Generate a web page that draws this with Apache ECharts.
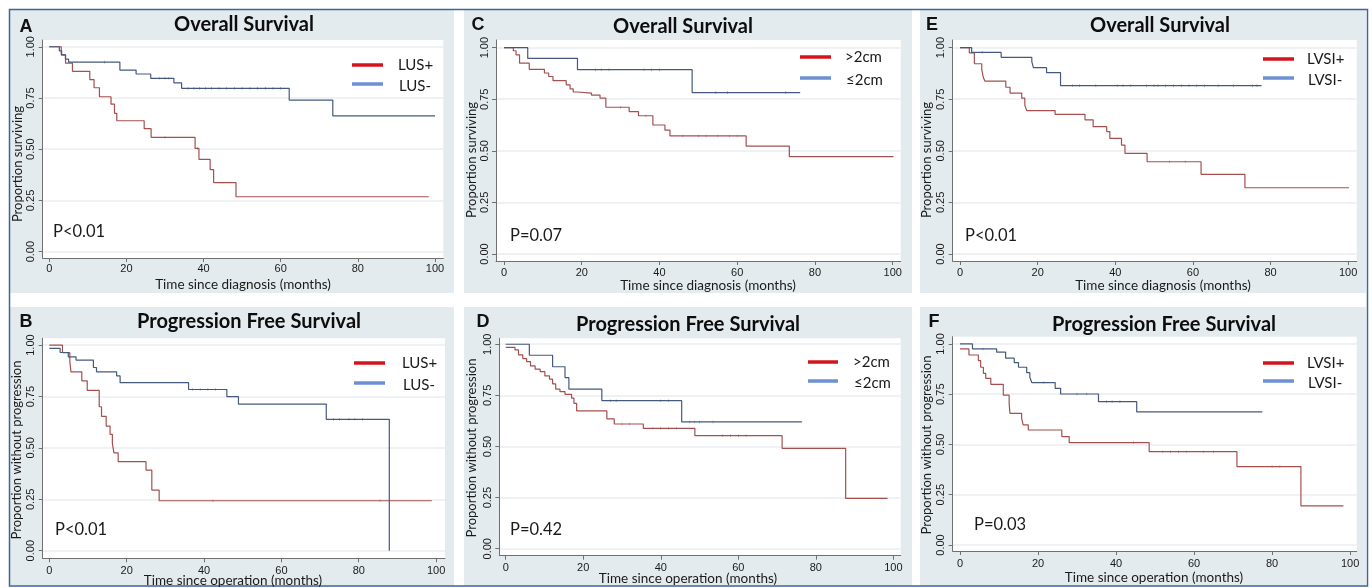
<!DOCTYPE html>
<html><head><meta charset="utf-8">
<script src="https://cdn.jsdelivr.net/npm/echarts@6/dist/echarts.min.js"></script>
<style>html,body{margin:0;padding:0;background:#fff}#c{width:1372px;height:588px}</style>
</head><body><div id="c"></div><script>
// ---------- tick labels ----------
const xTicks = [0, 20, 40, 60, 80, 100];
const yTicks = [0, 0.25, 0.5, 0.75, 1];
const yTickLabels = ['0.00', '0.25', '0.50', '0.75', '1.00'];

// ---------- Kaplan-Meier steps [month, proportion] ----------
// A: Overall survival by LUS
const osLusPos = [[0,1],[3.1,0.96],[4.2,0.92],[6,0.88],[10.5,0.84],[11.6,0.80],[13,0.756],[16,0.72],[16.9,0.675],[17.5,0.639],[24.6,0.60],[26.4,0.558],[37.8,0.504],[38.8,0.45],[41.7,0.40],[42.6,0.337],[48.4,0.268],[98.4,0.268]];
const osLusNeg = [[0,1],[2.6,0.98],[3.2,0.96],[4.2,0.94],[5,0.925],[18.3,0.886],[22.5,0.867],[26.3,0.846],[32.3,0.824],[34.3,0.797],[62.2,0.74],[73.5,0.663],[100,0.663]];
// C: Overall survival by size
const osBig = [[0,1],[2.4,0.985],[3.1,0.965],[4,0.925],[6.5,0.895],[10.4,0.877],[11.5,0.86],[12.6,0.84],[16,0.82],[17,0.80],[17.8,0.785],[19,0.78],[22.5,0.77],[24.7,0.755],[26.2,0.711],[32.2,0.69],[34.6,0.67],[38.3,0.625],[41.4,0.60],[42.7,0.572],[62.3,0.523],[73.4,0.472],[100.2,0.472]];
const osSmall = [[0,1],[6.1,0.948],[18.9,0.893],[48.4,0.782],[76.2,0.782]];
// E: Overall survival by LVSI
const osLvsiPos = [[0,1],[2.4,0.975],[3.7,0.922],[5.6,0.895],[6,0.856],[6.4,0.838],[11.8,0.808],[12.9,0.78],[15.9,0.755],[16.7,0.72],[17.2,0.695],[24.5,0.677],[32.2,0.65],[34.3,0.617],[37.8,0.593],[38.6,0.56],[41.6,0.528],[42.5,0.488],[48.2,0.447],[62.1,0.386],[73.4,0.321],[100.2,0.321]];
const osLvsiNeg = [[0,1],[3,0.977],[10.6,0.953],[18.5,0.932],[18.9,0.903],[22.3,0.879],[25.9,0.816],[77.7,0.816]];
// B: PFS by LUS
const pfsLusPos = [[0,1],[3.4,0.963],[5.3,0.92],[5.6,0.87],[8.4,0.826],[9.8,0.78],[12.9,0.70],[13.5,0.653],[14.7,0.606],[15.7,0.566],[16.3,0.522],[16.7,0.476],[17.8,0.433],[25,0.392],[26.5,0.295],[28.4,0.243],[98.9,0.243]];
const pfsLusNeg = [[0,0.984],[2.8,0.964],[4.9,0.943],[6.9,0.927],[11.4,0.891],[12.2,0.87],[17.4,0.85],[18.3,0.817],[36,0.784],[45.9,0.749],[48.9,0.713],[71.6,0.639],[87.9,0]];
// D: PFS by size
const pfsBig = [[0,0.985],[2.4,0.972],[3.3,0.948],[4.4,0.93],[5.4,0.915],[6.4,0.894],[7.6,0.878],[8.9,0.866],[10.1,0.845],[11.3,0.829],[12.1,0.806],[12.9,0.78],[14,0.768],[15.3,0.755],[17,0.736],[17.6,0.711],[18.3,0.674],[26.1,0.635],[28,0.61],[35.5,0.589],[48.8,0.553],[71.3,0.491],[87.7,0.246],[98.5,0.246]];
const pfsSmall = [[0,1],[6.1,0.946],[12.1,0.89],[15.3,0.837],[16.3,0.78],[24.8,0.724],[45.4,0.62],[76.4,0.62]];
// F: PFS by LVSI
const pfsLvsiPos = [[0,0.975],[2.3,0.945],[4.7,0.917],[5.3,0.884],[6,0.854],[6.6,0.829],[7.9,0.799],[11.1,0.745],[12.6,0.705],[12.8,0.655],[15.8,0.63],[16.2,0.597],[17.5,0.572],[26.1,0.539],[28,0.509],[48.5,0.464],[71,0.39],[87.4,0.194],[98.3,0.194]];
const pfsLvsiNeg = [[0,1],[3.2,0.975],[9.4,0.959],[11.7,0.929],[13.9,0.907],[15,0.884],[17.1,0.857],[17.9,0.834],[18.4,0.808],[24.4,0.779],[25.8,0.751],[35.5,0.713],[45.3,0.662],[77.5,0.662]];

// ---------- censoring times (months) ----------
const cOsLusPos = [30, 38.4];
const cOsLusNeg = [14.3, 28.5, 30, 31, 36, 37.5, 39, 40.5, 42, 44, 46, 48, 50, 52, 54, 56, 58, 60];
const cOsBig = [30, 36.5, 46, 50, 52, 55, 58, 60];
const cOsSmall = [23.5, 25, 27, 36, 38, 40, 54.5, 57.5, 72.5];
const cOsLvsiPos = [54, 58];
const cOsLvsiNeg = [5.7, 29, 30.8, 35, 40.5, 42, 44, 48, 50, 51, 53, 55, 57, 59, 61, 63, 66.5, 70.5, 75.3, 76.5];
const cPfsLusPos = [42.3, 85.5];
const cPfsLusNeg = [37, 39, 41, 43, 73.5, 75, 77.5, 79, 81];
const cPfsBig = [30, 32, 38, 40, 42, 44, 56, 58, 60, 62];
const cPfsSmall = [27, 28.5, 40, 42, 47.5, 48.7, 50, 53.5];
const cPfsLvsiPos = [44.5, 52, 54, 56, 58, 62.5, 65, 80, 82];
const cPfsLvsiNeg = [5.9, 21.5, 30, 32.5, 37.5, 39, 41];

// ---------- texts ----------
const titles = ['Overall Survival', 'Overall Survival', 'Overall Survival', 'Progression Free Survival', 'Progression Free Survival', 'Progression Free Survival'];
const letters = ['A', 'C', 'E', 'B', 'D', 'F'];
const legendNames = [['LUS+', 'LUS-'], ['>2cm', '≤2cm'], ['LVSI+', 'LVSI-'], ['LUS+', 'LUS-'], ['>2cm', '≤2cm'], ['LVSI+', 'LVSI-']];
const pValues = ['P<0.01', 'P=0.07', 'P<0.01', 'P<0.01', 'P=0.42', 'P=0.03'];
const xNames = ['Time since diagnosis (months)', 'Time since diagnosis (months)', 'Time since diagnosis (months)', 'Time since operation (months)', 'Time since operation (months)', 'Time since operation (months)'];
const yNames = ['Proportion surviving', 'Proportion surviving', 'Proportion surviving', 'Proportion without progression', 'Proportion without progression', 'Proportion without progression'];

const curves = [[osLusPos, osLusNeg], [osBig, osSmall], [osLvsiPos, osLvsiNeg], [pfsLusPos, pfsLusNeg], [pfsBig, pfsSmall], [pfsLvsiPos, pfsLvsiNeg]];
const censors = [[cOsLusPos, cOsLusNeg], [cOsBig, cOsSmall], [cOsLvsiPos, cOsLvsiNeg], [cPfsLusPos, cPfsLusNeg], [cPfsBig, cPfsSmall], [cPfsLvsiPos, cPfsLvsiNeg]];

// ---------- layout (pixels) ----------
const layout = [
  {bg:[10,10,444,283], grid:[42.7,40,400.6,218], x:[-1.71,102.15], y:[-0.031,1.033], xm:5, title:[244,25], letter:[26,27], leg:[352,383,65,84,398], p:[53,232], xn:[243,285], yn:[18,164]},
  {bg:[464,10,448,283], grid:[496,40,404.7,221], x:[-2.06,102.06], y:[-0.034,1.037], xm:6, title:[683,27], letter:[478,25], leg:[800,831,57,78,845], p:[510,236], xn:[708,286], yn:[472,160]},
  {bg:[920,10,446,283], grid:[952.7,40,404,221], x:[-1.88,102.2], y:[-0.034,1.037], xm:6, title:[1160,26], letter:[932,25], leg:[1263,1294,59,78,1307], p:[965,236], xn:[1163,286], yn:[927,160]},
  {bg:[10,307,444,279], grid:[42.7,338.3,402.3,220], x:[-1.71,102.3], y:[-0.037,1.033], xm:7, title:[249,322], letter:[26,322], leg:[354,385,363,383,402], p:[55,530], xn:[233,581], yn:[17,450]},
  {bg:[464,307,448,279], grid:[499.3,338.3,401.4,217.4], x:[-1.65,101.9], y:[-0.034,1.029], xm:7, title:[688,325], letter:[483,322], leg:[808,838,362,381,853], p:[510,530], xn:[688,579], yn:[472,448]},
  {bg:[920,307,446,279], grid:[952.7,336.7,404,214.3], x:[-1.87,101.7], y:[-0.03,1.036], xm:7.5, title:[1164,325], letter:[934,322], leg:[1263,1294,363,381,1307], p:[974,525], xn:[1154,578], yn:[927,445]}
];

const RED = '#a4504f', BLUE = '#45597f', LRED = '#d4141c', LBLUE = '#6d90d3';
const AX = '#707070', TXT = '#1a1a1a';
const SANS = 'Lato, "Open Sans", sans-serif';
const TICKF = '"Liberation Sans", Arial, sans-serif';

function survAt(steps, t) {
  let v = steps[0][1];
  for (const [tt, s] of steps) { if (tt <= t) v = s; else break; }
  return v;
}

const grids = [], xAxes = [], yAxes = [], series = [], graphics = [];

layout.forEach(L => {
  graphics.push({type:'rect', silent:true, z:-10, shape:{x:L.bg[0], y:L.bg[1], width:L.bg[2], height:L.bg[3]}, style:{fill:'#e4ebef'}});
});
graphics.push({type:'rect', silent:true, z:-5, shape:{x:9.5, y:9.5, width:1358, height:576.5}, style:{fill:'none', stroke:'#40639b', lineWidth:1.5}});

layout.forEach((L, i) => {
  grids.push({left:L.grid[0], top:L.grid[1], width:L.grid[2], height:L.grid[3], backgroundColor:'#ffffff', show:true, borderWidth:0, containLabel:false});
  xAxes.push({
    type:'value', gridIndex:i, min:L.x[0], max:L.x[1],
    axisLine:{show:true, onZero:false, lineStyle:{color:AX, width:1}},
    axisTick:{show:true, customValues:xTicks, length:4, lineStyle:{color:AX}},
    axisLabel:{customValues:xTicks, margin:L.xm, fontSize:11, color:TXT, fontFamily:TICKF},
    splitLine:{show:false}
  });
  yAxes.push({
    type:'value', gridIndex:i, min:L.y[0], max:L.y[1],
    axisLine:{show:true, onZero:false, lineStyle:{color:AX, width:1}},
    axisTick:{show:true, customValues:yTicks, length:4, lineStyle:{color:AX}},
    axisLabel:{customValues:yTicks, rotate:90, margin:6, fontSize:11, color:TXT, fontFamily:TICKF,
      formatter: v => yTickLabels[yTicks.indexOf(Math.round(v*100)/100)] || ''},
    splitLine:{show:true, lineStyle:{color:'#e9eef1', width:1.5}}
  });
  const cols = [RED, BLUE];
  curves[i].forEach((d, k) => {
    series.push({
      type:'line', name:legendNames[i][k], xAxisIndex:i, yAxisIndex:i, data:d, step:'end',
      showSymbol:false, symbol:'none', lineStyle:{color:cols[k], width:1.2}, itemStyle:{color:cols[k]},
      animation:false, silent:true, z:3
    });
    series.push({
      type:'scatter', xAxisIndex:i, yAxisIndex:i, data:censors[i][k].map(t => [t, survAt(d, t)]),
      symbol:'rect', symbolSize:[0.6, 2.6], itemStyle:{color:cols[k], opacity:0.75}, animation:false, silent:true, z:4
    });
  });

  graphics.push({type:'text', silent:true, x:L.title[0], y:L.title[1], style:{text:titles[i], font:'bold 20px ' + SANS, fill:'#0d0d0d', align:'center', verticalAlign:'middle'}});
  graphics.push({type:'text', silent:true, x:L.letter[0], y:L.letter[1], style:{text:letters[i], font:'bold 18px ' + TICKF, fill:'#111', align:'center', verticalAlign:'middle'}});
  graphics.push({type:'line', silent:true, shape:{x1:L.leg[0], y1:L.leg[2], x2:L.leg[1], y2:L.leg[2]}, style:{stroke:LRED, lineWidth:3.5}});
  graphics.push({type:'line', silent:true, shape:{x1:L.leg[0], y1:L.leg[3], x2:L.leg[1], y2:L.leg[3]}, style:{stroke:LBLUE, lineWidth:3.5}});
  graphics.push({type:'text', silent:true, x:L.leg[4], y:L.leg[2], style:{text:legendNames[i][0], font:'15px ' + SANS, fill:TXT, align:'left', verticalAlign:'middle'}});
  graphics.push({type:'text', silent:true, x:L.leg[4] + 1, y:L.leg[3] + 2, style:{text:legendNames[i][1], font:'15px ' + SANS, fill:TXT, align:'left', verticalAlign:'middle'}});
  graphics.push({type:'text', silent:true, x:L.p[0], y:L.p[1], style:{text:pValues[i], font:'16.5px ' + SANS, fill:TXT, align:'left', verticalAlign:'middle'}});
  graphics.push({type:'text', silent:true, x:L.xn[0], y:L.xn[1], style:{text:xNames[i], font:'13.5px ' + SANS, fill:TXT, align:'center', verticalAlign:'middle'}});
  graphics.push({type:'text', silent:true, x:L.yn[0], y:L.yn[1], rotation:Math.PI/2, style:{text:yNames[i], font:'13px ' + SANS, fill:TXT, align:'center', verticalAlign:'middle'}});
});

const chart = echarts.init(document.getElementById('c'), null, {renderer:'canvas'});
chart.setOption({
  backgroundColor:'#ffffff',
  animation:false,
  grid:grids, xAxis:xAxes, yAxis:yAxes, series:series,
  graphic:{elements:graphics}
});
</script></body></html>
